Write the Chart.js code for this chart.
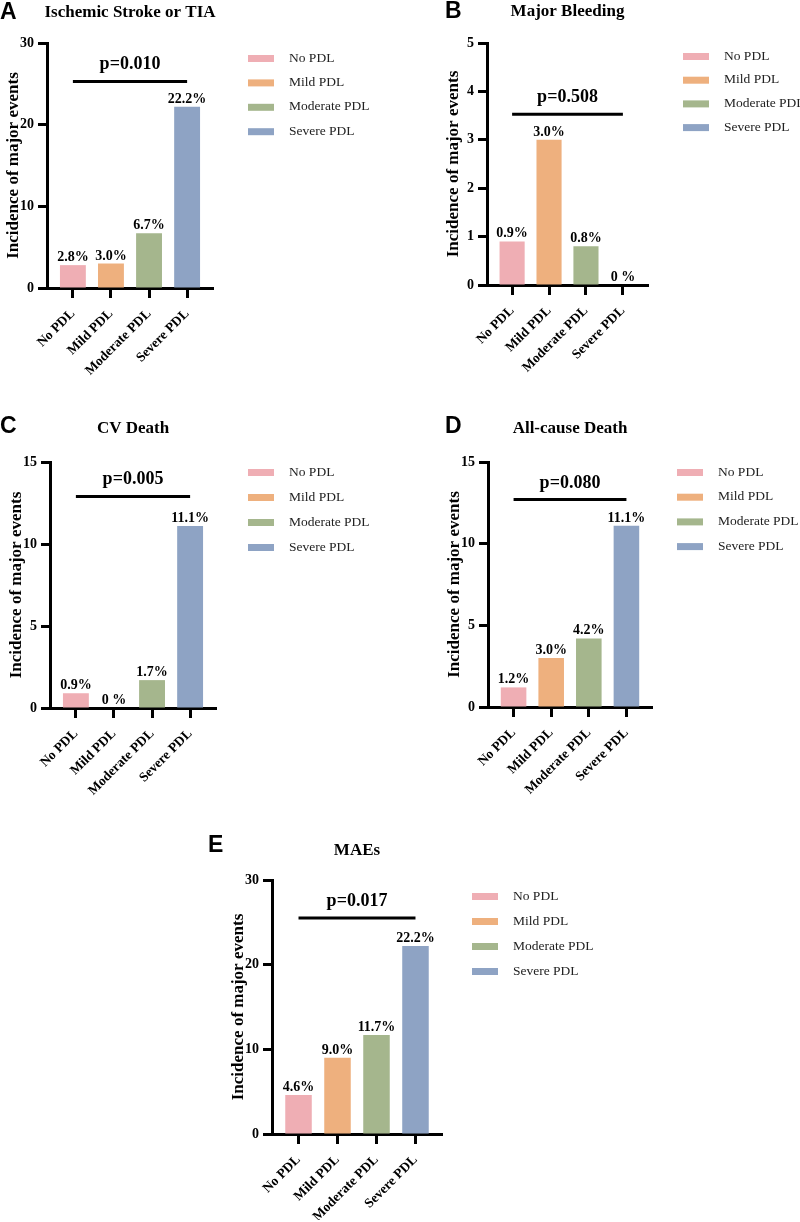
<!DOCTYPE html>
<html>
<head>
<meta charset="utf-8">
<script src="https://cdn.jsdelivr.net/npm/chart.js@4.4.1/dist/chart.umd.min.js"></script>
<style>
  html, body { margin: 0; padding: 0; background: #fff; }
  body { width: 800px; height: 1222px; position: relative; overflow: hidden; }
  canvas { position: absolute; }
</style>
</head>
<body>
<canvas id="panelA" width="400" height="400" style="left:0;top:0"></canvas>
<canvas id="panelB" width="400" height="400" style="left:400px;top:0"></canvas>
<canvas id="panelC" width="400" height="400" style="left:0;top:400px"></canvas>
<canvas id="panelD" width="400" height="400" style="left:400px;top:400px"></canvas>
<canvas id="panelE" width="400" height="400" style="left:200px;top:820px"></canvas>
<script>
// Groups shown in every panel
const groups = ['No PDL', 'Mild PDL', 'Moderate PDL', 'Severe PDL'];
const groupColors = ['#efaeb4', '#eeb07e', '#a5b68d', '#8ea3c4'];

// Incidence (%) per group, one pair of arrays per panel
const strokeValues = [2.8, 3.0, 6.7, 22.2];
const strokeLabels = ['2.8%', '3.0%', '6.7%', '22.2%'];
const bleedingValues = [0.9, 3.0, 0.8, 0];
const bleedingLabels = ['0.9%', '3.0%', '0.8%', '0 %'];
const cvDeathValues = [0.9, 0, 1.7, 11.1];
const cvDeathLabels = ['0.9%', '0 %', '1.7%', '11.1%'];
const allDeathValues = [1.2, 3.0, 4.2, 11.1];
const allDeathLabels = ['1.2%', '3.0%', '4.2%', '11.1%'];
const maeValues = [4.6, 9.0, 11.7, 22.2];
const maeLabels = ['4.6%', '9.0%', '11.7%', '22.2%'];

// Panel texts, y axis ranges and p-value bracket height (axis units)
const panelLetters = ['A', 'B', 'C', 'D', 'E'];
const panelTitles = ['Ischemic Stroke or TIA', 'Major Bleeding', 'CV Death', 'All-cause Death', 'MAEs'];
const pTexts = ['p=0.010', 'p=0.508', 'p=0.005', 'p=0.080', 'p=0.017'];
const pLevels = [25.3, 3.53, 12.9, 12.7, 25.5];
const yMaxes = [30, 5, 15, 15, 30];
const ySteps = [10, 1, 5, 5, 10];
const yTitle = 'Incidence of major events';

const SERIF = '"Liberation Serif", "Times New Roman", serif';
const Y_AXIS_W = 47;
const X_AXIS_H = 100;

// Draws panel letter, title, p-value bracket, bar labels and the legend
const panelDecor = {
    id: 'panelDecor',
    afterDraw(chart, args, opts) {
        const ctx = chart.ctx;
        const area = chart.chartArea;
        const xs = chart.scales.x;
        const ys = chart.scales.y;
        ctx.save();
        ctx.fillStyle = '#000';

        // Panel letter
        ctx.font = 'bold 23px "Liberation Sans", Arial, sans-serif';
        ctx.textAlign = 'left';
        ctx.textBaseline = 'alphabetic';
        ctx.fillText(opts.letter, opts.letterX, opts.letterBase);

        // Title
        ctx.font = 'bold 17px ' + SERIF;
        ctx.textAlign = 'center';
        ctx.fillText(opts.title, (area.left + area.right) / 2, opts.titleBase);

        // p-value bracket from first to last group
        const x0 = xs.getPixelForValue(0);
        const x1 = xs.getPixelForValue(groups.length - 1);
        const ly = ys.getPixelForValue(opts.pLevel);
        ctx.strokeStyle = '#000';
        ctx.lineWidth = 3;
        ctx.beginPath();
        ctx.moveTo(x0, ly);
        ctx.lineTo(x1, ly);
        ctx.stroke();
        ctx.font = 'bold 18px ' + SERIF;
        ctx.fillText(opts.pText, (x0 + x1) / 2, ly - 12);

        // Value labels above bars
        ctx.font = 'bold 14px ' + SERIF;
        chart.getDatasetMeta(0).data.forEach((bar, i) => {
            ctx.fillText(opts.valueLabels[i], bar.x, bar.y - 4);
        });

        // Legend
        ctx.font = '13.5px ' + SERIF;
        ctx.textAlign = 'left';
        ctx.textBaseline = 'middle';
        groups.forEach((g, i) => {
            const cy = opts.legendY + i * opts.legendGap;
            ctx.fillStyle = groupColors[i];
            ctx.fillRect(opts.legendX, cy - 3, 26, 7);
            ctx.fillStyle = '#222';
            ctx.fillText(g, opts.legendX + 41, cy);
        });
        ctx.restore();
    }
};

function makePanel(canvasId, idx, values, valueLabels, layout) {
    const canvas = document.getElementById(canvasId);
    const W = canvas.width;
    const H = canvas.height;
    const area = layout.area;

    return new Chart(canvas, {
        type: 'bar',
        data: {
            datasets: [{
                data: values.map((v, k) => ({ x: k, y: v })),
                backgroundColor: groupColors,
                borderWidth: 0,
                barPercentage: 0.68,
                categoryPercentage: 1
            }]
        },
        options: {
            responsive: false,
            animation: false,
            layout: {
                padding: {
                    left: area.left - Y_AXIS_W,
                    top: area.top,
                    right: W - area.right,
                    bottom: H - area.bottom - X_AXIS_H
                }
            },
            plugins: {
                legend: { display: false },
                tooltip: { enabled: false },
                panelDecor: {
                    letter: panelLetters[idx],
                    title: panelTitles[idx],
                    pText: pTexts[idx],
                    pLevel: pLevels[idx],
                    valueLabels: valueLabels,
                    letterX: layout.letterX,
                    letterBase: layout.letterBase,
                    titleBase: layout.titleBase,
                    legendX: layout.legendX,
                    legendY: layout.legendY,
                    legendGap: layout.legendGap
                }
            },
            scales: {
                x: {
                    type: 'linear',
                    offset: false,
                    z: 1,
                    min: -0.68,
                    max: groups.length - 1 + 0.68,
                    afterBuildTicks: s => { s.ticks = groups.map((g, k) => ({ value: k })); },
                    afterFit: s => { s.height = X_AXIS_H; },
                    ticks: {
                        callback: v => groups[v],
                        autoSkip: false,
                        minRotation: 45,
                        maxRotation: 45,
                        padding: 8,
                        color: '#000',
                        font: { family: SERIF, size: 13.5, weight: 'bold' }
                    },
                    grid: {
                        offset: false,
                        drawOnChartArea: false,
                        drawTicks: true,
                        tickLength: 10,
                        tickWidth: 3,
                        tickColor: '#000'
                    },
                    border: { color: '#000', width: 3 }
                },
                y: {
                    z: 1,
                    min: 0,
                    max: yMaxes[idx],
                    afterFit: s => { s.width = Y_AXIS_W; },
                    ticks: {
                        stepSize: ySteps[idx],
                        padding: 4,
                        color: '#000',
                        font: { family: SERIF, size: 14, weight: 'bold' }
                    },
                    grid: {
                        drawOnChartArea: false,
                        drawTicks: true,
                        tickLength: 9,
                        tickWidth: 3,
                        tickColor: '#000'
                    },
                    border: { color: '#000', width: 3 },
                    title: {
                        display: true,
                        text: yTitle,
                        color: '#000',
                        font: { family: SERIF, size: 17, weight: 'bold' },
                        padding: { top: 3, bottom: 0 }
                    }
                }
            }
        },
        plugins: [panelDecor]
    });
}

document.addEventListener('DOMContentLoaded', () => {
    makePanel('panelA', 0, strokeValues, strokeLabels, {
        area: { left: 47, top: 43, right: 213, bottom: 288 },
        letterX: 0, letterBase: 19, titleBase: 17,
        legendX: 248, legendY: 58, legendGap: 24.4
    });
    makePanel('panelB', 1, bleedingValues, bleedingLabels, {
        area: { left: 87, top: 43, right: 248, bottom: 285 },
        letterX: 45, letterBase: 18, titleBase: 16,
        legendX: 283, legendY: 56, legendGap: 23.7
    });
    makePanel('panelC', 2, cvDeathValues, cvDeathLabels, {
        area: { left: 50, top: 62, right: 216, bottom: 308 },
        letterX: 0, letterBase: 33, titleBase: 33,
        legendX: 248, legendY: 72, legendGap: 25
    });
    makePanel('panelD', 3, allDeathValues, allDeathLabels, {
        area: { left: 88, top: 62, right: 252, bottom: 307 },
        letterX: 45, letterBase: 33, titleBase: 33,
        legendX: 277, legendY: 72, legendGap: 24.7
    });
    makePanel('panelE', 4, maeValues, maeLabels, {
        area: { left: 72, top: 60, right: 242, bottom: 314 },
        letterX: 8, letterBase: 32, titleBase: 35,
        legendX: 272, legendY: 76, legendGap: 25
    });
});
</script>
</body>
</html>
